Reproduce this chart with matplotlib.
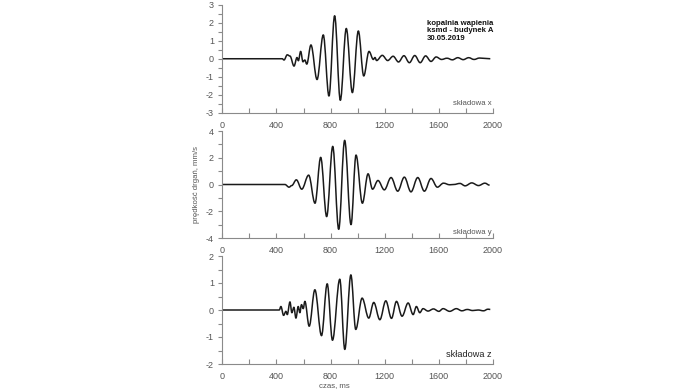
import matplotlib
matplotlib.use("Agg")
import matplotlib.pyplot as plt
from matplotlib.ticker import MultipleLocator
from matplotlib.path import Path
from matplotlib.patches import PathPatch

plt.rcParams['font.family'] = ['Liberation Sans', 'DejaVu Sans']
plt.rcParams['axes.unicode_minus'] = False

# ---- data: (time ms, velocity mm/s) at extrema ----
t_x = [0, 443, 456, 480, 500, 530, 552, 562, 579, 596, 610, 624, 655, 700, 746, 788, 830, 872,
       916, 961, 1005, 1045, 1084, 1116, 1128, 1140, 1182, 1222, 1262, 1302, 1342, 1382, 1422,
       1462, 1502, 1542, 1580, 1620, 1660, 1700, 1740, 1780, 1820, 1860, 1900, 1940, 1980]
v_x = [0, 0, -0.07, 0.22, 0.15, -0.41, 0.07, -0.11, 0.41, -0.17, -0.07, -0.3, 0.77, -1.16, 1.33,
       -2.08, 2.4, -2.32, 1.69, -1.89, 1.55, -0.96, 0.41, -0.04, 0.07, -0.1, 0.19, -0.1, 0.14,
       -0.18, 0.17, -0.22, 0.18, -0.22, 0.16, -0.15, 0.1, -0.04, 0.03, -0.06, 0.06, -0.05, 0.06,
       -0.04, 0.04, 0.02, 0.0]

t_y = [0, 463, 493, 513, 547, 587, 638, 685, 727, 771, 816, 860, 904, 951, 988, 1035, 1077,
       1110, 1150, 1197, 1247, 1296, 1345, 1394, 1444, 1493, 1542, 1589, 1634, 1680, 1710, 1756,
       1794, 1843, 1893, 1940, 1975]
v_y = [0, 0, -0.2, -0.08, 0.35, -0.35, 0.7, -1.4, 2.03, -2.4, 2.85, -3.35, 3.3, -3.0, 2.2,
       -1.4, 0.8, -0.35, 0.3, -0.4, 0.52, -0.5, 0.55, -0.55, 0.52, -0.5, 0.45, -0.2, 0.1, -0.02,
       0.0, 0.08, -0.1, 0.12, -0.08, 0.1, -0.05]

t_z = [0, 421, 433, 453, 470, 480, 500, 514, 529, 544, 561, 573, 585, 598, 610, 642, 684, 733,
       775, 814, 868, 905, 950, 986, 1033, 1082, 1119, 1164, 1208, 1250, 1287, 1328, 1373, 1410,
       1434, 1459, 1483, 1520, 1560, 1600, 1631, 1680, 1729, 1770, 1810, 1850, 1890, 1930, 1963, 1980]
v_z = [0, 0, 0.13, -0.2, -0.05, -0.17, 0.3, -0.1, 0.1, -0.3, 0.13, -0.1, 0.2, 0.05, 0.32, -0.6,
       0.75, -0.95, 0.97, -1.12, 1.14, -1.46, 1.3, -0.72, 0.44, -0.3, 0.28, -0.36, 0.34, -0.31,
       0.32, -0.23, 0.26, -0.17, 0.13, -0.1, 0.05, -0.04, 0.04, -0.05, 0.05, -0.05, 0.05, -0.03,
       0.02, -0.02, 0.0, -0.03, 0.03, 0.02]

series = [(t_x, v_x), (t_y, v_y), (t_z, v_z)]
ylims = [(-3, 3), (-4, 4), (-2, 2)]
ymajor = [1, 2, 1]
yminor = [0.5, 1, 0.5]
comp_labels = ["składowa x", "składowa y", "składowa z"]
xticks_major = 400
xticks_minor = 200
title_lines = "kopalnia wapienia\nksmd - budynek A\n30.05.2019"


def wave_path(t, v, k=0.36):
    """Smooth trace through the extrema: horizontal tangent at every extremum."""
    verts = [(t[0], v[0])]
    codes = [Path.MOVETO]
    for i in range(1, len(t)):
        d = t[i] - t[i - 1]
        verts += [(t[i - 1] + k * d, v[i - 1]), (t[i] - k * d, v[i]), (t[i], v[i])]
        codes += [Path.CURVE4] * 3
    return Path(verts, codes)


fig = plt.figure(figsize=(6.95, 3.91), dpi=100)
W, H = 695, 391
left, right = 222.3 / W, 493 / W
panels_px = [(5, 112.5), (131, 238), (256, 364)]
axc = '#8a8a8a'
txtc = '#555555'

axes = []
for i, (top, bot) in enumerate(panels_px):
    ax = fig.add_axes([left, 1 - bot / H, right - left, (bot - top) / H])
    t, v = series[i]
    ax.add_patch(PathPatch(wave_path(t, v), facecolor='none', edgecolor='#1a1a1a',
                           lw=1.1, joinstyle='round'))
    ax.set_xlim(0, 2000)
    ax.set_ylim(*ylims[i])
    ax.xaxis.set_major_locator(MultipleLocator(xticks_major))
    ax.xaxis.set_minor_locator(MultipleLocator(xticks_minor))
    ax.yaxis.set_major_locator(MultipleLocator(ymajor[i]))
    ax.yaxis.set_minor_locator(MultipleLocator(yminor[i]))
    for s in ['top', 'right']:
        ax.spines[s].set_visible(False)
    for s in ['left', 'bottom']:
        ax.spines[s].set_color(axc)
        ax.spines[s].set_linewidth(0.8)
    ax.tick_params(axis='x', which='both', direction='in', length=3.5, width=0.8,
                   color=axc, labelsize=6.5, labelcolor=txtc, pad=6)
    ax.tick_params(axis='y', which='both', direction='out', length=3, width=0.8,
                   color=axc, labelsize=6.5, labelcolor=txtc, pad=3)
    ax.patch.set_alpha(0)
    axes.append(ax)

axes[0].text(0.755, 0.865, title_lines, transform=axes[0].transAxes, fontsize=5.6,
             fontweight='bold', va='top', ha='left', linespacing=1.15, color='#111111')
axes[0].text(0.995, 0.05, comp_labels[0], transform=axes[0].transAxes, fontsize=5.6,
             ha='right', va='bottom', color=txtc)
axes[1].text(0.995, 0.02, comp_labels[1], transform=axes[1].transAxes, fontsize=5.6,
             ha='right', va='bottom', color=txtc)
axes[2].text(0.995, 0.05, comp_labels[2], transform=axes[2].transAxes, fontsize=6.6,
             ha='right', va='bottom', color='#222222')

axes[1].set_ylabel("prędkość drgań, mm/s", fontsize=5.6, color=txtc, labelpad=4)
axes[2].set_xlabel("czas, ms", fontsize=5.6, color=txtc, labelpad=0)
axes[2].xaxis.set_label_coords(0.415, -0.17)

fig.savefig("out.png", dpi=100)
